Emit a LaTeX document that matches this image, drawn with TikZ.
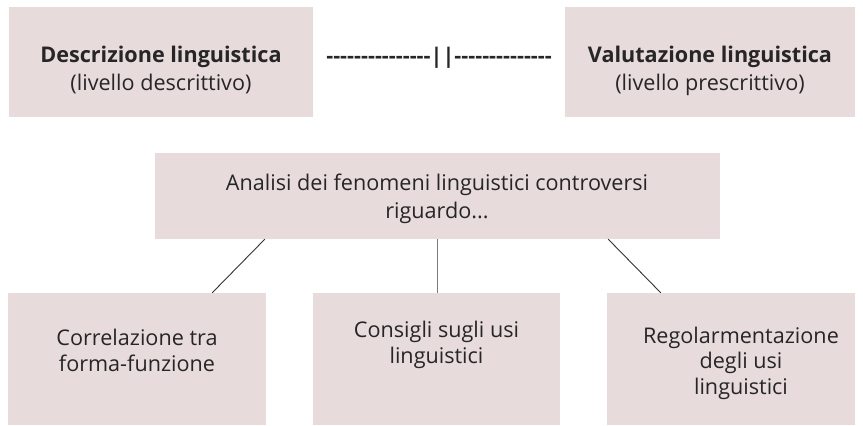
\documentclass[tikz,border=0pt]{standalone}
\usepackage{fontspec}
\setmainfont{Open Sans}
\newfontfamily\dashfont{Open Sans}[Ligatures=TeXOff]
\usetikzlibrary{calc}
\definecolor{boxpink}{HTML}{E8DBDC}
\definecolor{txt}{HTML}{262626}
\definecolor{linec}{HTML}{333333}
\definecolor{linev}{HTML}{7A7A7A}
\begin{document}
\begin{tikzpicture}[x=1pt,y=-1pt,
  box/.style={fill=boxpink, draw=none, inner sep=0pt},
  lbl/.style={align=center, text=txt, font=\fontsize{21.6}{28}\selectfont, inner sep=0pt, anchor=base},
  lblb/.style={lbl, font=\fontsize{21.6}{25.5}\selectfont},
  conn/.style={draw=linec, line width=0.9pt}]
\useasboundingbox (0,0) rectangle (863,426);
% boxes
\node[box, minimum width=304pt, minimum height=110pt] (desc) at (161,62) {};
\node[box, minimum width=290pt, minimum height=110pt] (valu) at (710,62) {};
\node[box, minimum width=565pt, minimum height=86pt] (mid) at (437.5,196) {};
\node[box, minimum width=258pt, minimum height=132pt] (b1) at (137,359) {};
\node[box, minimum width=247pt, minimum height=132pt] (b2) at (436.5,359) {};
\node[box, minimum width=248pt, minimum height=132pt] (b3) at (731,359) {};
% texts
\node[lbl] (desct) at (161,90) {\textbf{Descrizione linguistica}\\(livello descrittivo)};
\node[lbl] (valut) at (710,90) {\textbf{Valutazione linguistica}\\(livello prescrittivo)};
\node[lbl] (sep) at (439,63) {\dashfont\bfseries ---------------||--------------};
\node[lbl] (midt) at (437,218) {Analisi dei fenomeni linguistici controversi\\riguardo...};
\node[lblb] (b1t) at (137,371) {Correlazione tra\\forma-funzione};
\node[lblb] (b2t) at (436.5,363) {Consigli sugli usi\\linguistici};
\node[lblb] (b3t) at (741,394) {Regolarmentazione\\degli usi\\linguistici};
% connectors
\draw[conn] ($(mid.south west)+(110pt,0)$) -- ($(b1.north east)+(-54pt,0)$);
\draw[conn, draw=linev] (mid.south) -- (mid.south |- b2.north);
\draw[conn] ($(mid.south east)+(-112pt,0)$) -- ($(b3.north west)+(54pt,0)$);
\end{tikzpicture}
\end{document}
